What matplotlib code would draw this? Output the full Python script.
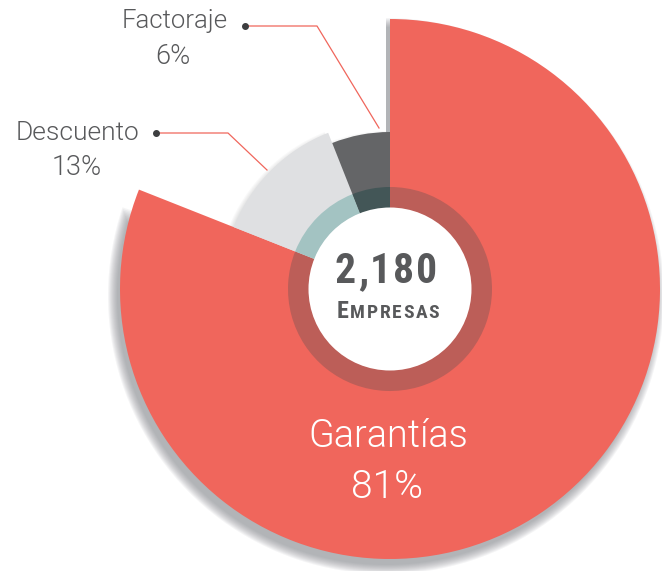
import numpy as np
import matplotlib.pyplot as plt
from matplotlib.patches import Wedge, Circle
from matplotlib import font_manager as fm

# data
labels = ['Garantías', 'Descuento', 'Factoraje']
shares = [81, 13, 6]
total_empresas = '2,180'

colors = ['#f0665c', '#dfe0e2', '#646567']
ring_colors = ['#bc5e58', '#a3c3c2', '#435657']
radii = [270, 168, 157]

W, H = 662, 571
cx, cy = 390, H - 289


def find_font(names):
    files = fm.findSystemFonts()
    for n in names:
        for f in files:
            if f.split('/')[-1].lower().startswith(n.lower()):
                return fm.FontProperties(fname=f)
    return None


light_fp = find_font(['Roboto-Light.', 'Roboto-Light', 'Lato-Light.'])
if light_fp is None:
    light_fp = fm.FontProperties(family='Roboto', weight='light')
bold_fp = find_font(['RobotoCondensed-Bold', 'LiberationSansNarrow-Bold.',
                     'DejaVuSansCondensed-Bold.', 'OpenSans_Condensed-Bold',
                     'OpenSansCondensed-Bold', 'Roboto-Bold.'])
if bold_fp is None:
    bold_fp = fm.FontProperties(family='DejaVu Sans', weight='bold')

fig = plt.figure(figsize=(W / 100, H / 100), dpi=100)
ax = fig.add_axes([0, 0, 1, 1])

# main pie, then set each slice radius
wedges, _ = ax.pie(shares, colors=colors, startangle=90, counterclock=False,
                   center=(cx, cy), radius=radii[0], frame=True,
                   wedgeprops=dict(linewidth=0))
ax.set_xlim(0, W)
ax.set_ylim(0, H)
ax.set_aspect('equal')
ax.axis('off')
for w, r in zip(wedges, radii):
    w.set_radius(r)
    w.set_zorder(3)

# soft drop shadow behind the slices
g = wedges[0]
for k in range(10):
    sh = Wedge((cx - 4, cy - 7), radii[0] + 8 - k, g.theta1 + 3 + 0.3 * k, g.theta2,
               facecolor='#7d7f84', alpha=0.08, linewidth=0, zorder=1)
    ax.add_patch(sh)
for w in wedges[1:]:
    for k in range(5):
        sh = Wedge((cx - 2, cy - 3), w.r + 4 - k, w.theta1, w.theta2,
                   facecolor='#8a8c90', alpha=0.05, linewidth=0, zorder=2)
        ax.add_patch(sh)

# inner ring
for w, c in zip(wedges, ring_colors):
    ax.add_patch(Wedge((cx, cy), 102, w.theta1, w.theta2, width=21,
                       facecolor=c, linewidth=0, zorder=4))
ax.add_patch(Circle((cx, cy), 81.5, facecolor='white', linewidth=0, zorder=5))

txt = '#58595b'
renderer = fig.canvas.get_renderer()


def tracked(parts, x_center, y, track):
    # parts: list of (string, fontsize); draws letters one by one with spacing
    items = []
    for s, size in parts:
        for ch in s:
            t = ax.text(0, y, ch, ha='left', va='baseline', fontproperties=bold_fp,
                        fontsize=size, color=txt, zorder=6)
            wpx = t.get_window_extent(renderer).width
            items.append((t, wpx))
    total = sum(wp for _, wp in items) + track * (len(items) - 1)
    x = x_center - total / 2
    for t, wp in items:
        t.set_x(x)
        x += wp + track


tracked([(total_empresas, 30)], cx - 4, H - 283, 2.0)
tracked([('E', 17.5), ('MPRESAS', 14)], cx - 2, H - 318, 1.6)

pct = [f'{s}%' for s in shares]
ax.text(388, H - 447, labels[0], ha='center', va='baseline', fontsize=27.2,
        fontproperties=light_fp, color='white', zorder=6)
ax.text(387, H - 498, pct[0], ha='center', va='baseline', fontsize=28,
        fontproperties=light_fp, color='white', zorder=6)

# outside labels with leader lines
ax.text(77, H - 140, labels[1], ha='center', va='baseline', fontsize=19,
        fontproperties=light_fp, color=txt)
ax.text(77, H - 175, pct[1], ha='center', va='baseline', fontsize=19.5,
        fontproperties=light_fp, color=txt)
ax.text(175, H - 28, labels[2], ha='center', va='baseline', fontsize=18.5,
        fontproperties=light_fp, color=txt)
ax.text(173, H - 64, pct[2], ha='center', va='baseline', fontsize=19.5,
        fontproperties=light_fp, color=txt)

line_c = '#f0665c'
ax.plot([156, 228, 267], [H - 133, H - 133, H - 170], color=line_c, lw=0.9, zorder=7)
ax.plot([245, 317, 379], [H - 26, H - 26, H - 128], color=line_c, lw=0.9, zorder=7)
ax.scatter([156, 245], [H - 133, H - 26], s=16, color='#3d3e40', zorder=8)

fig.savefig('out.png', dpi=100)
